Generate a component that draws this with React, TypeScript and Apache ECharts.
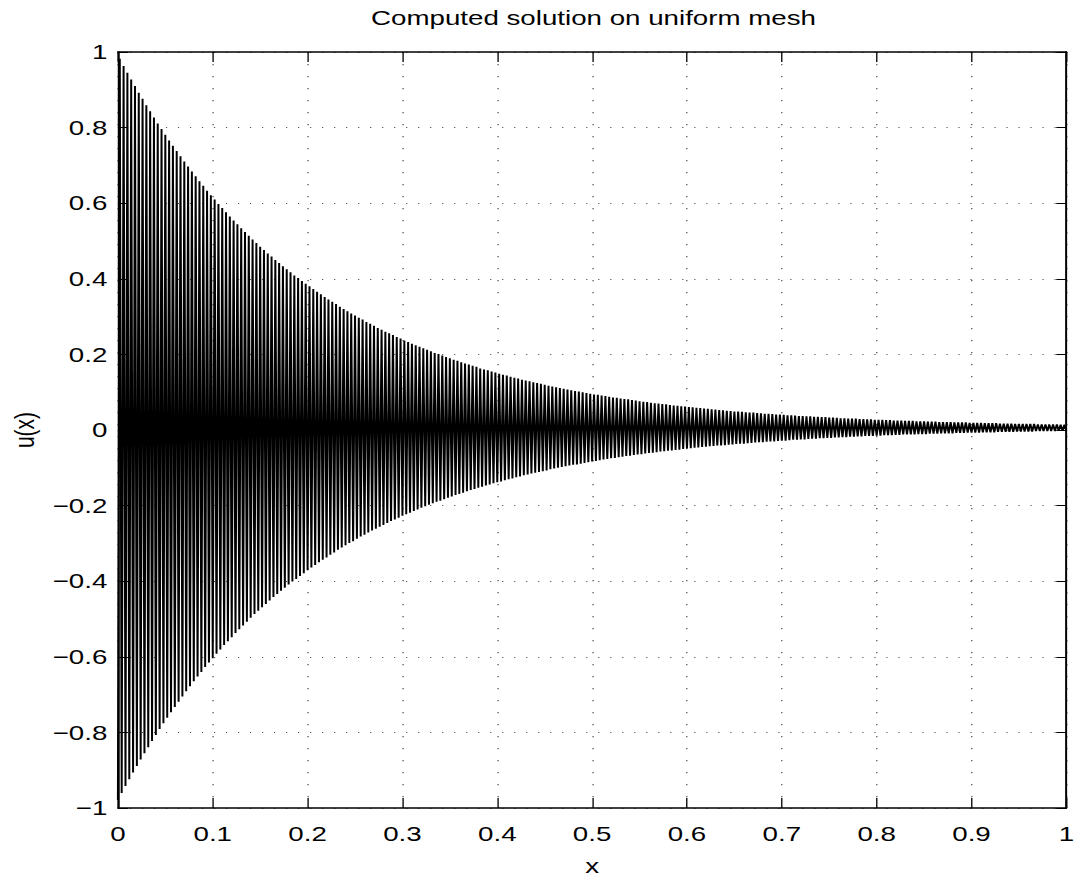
import React, { useEffect, useRef } from "react";
import * as echarts from "echarts";

// Computed solution on a uniform mesh, x_j = j / 500, j = 0..500
const uPart1 = [
  -0.979, 0.982, -0.960, 0.963, -0.942, 0.945, -0.924, 0.927, -0.906, 0.910,
  -0.889, 0.892, -0.872, 0.876, -0.855, 0.859, -0.839, 0.843, -0.823, 0.827,
  -0.807, 0.811, -0.791, 0.796, -0.776, 0.781, -0.761, 0.766, -0.747, 0.752,
  -0.733, 0.738, -0.719, 0.724, -0.705, 0.710, -0.691, 0.697, -0.678, 0.684,
  -0.665, 0.671, -0.652, 0.658, -0.640, 0.646, -0.627, 0.633, -0.615, 0.621,
  -0.604, 0.610, -0.592, 0.598, -0.581, 0.587, -0.569, 0.576, -0.559, 0.565,
  -0.548, 0.554, -0.537, 0.544, -0.527, 0.534, -0.517, 0.524, -0.507, 0.514,
  -0.497, 0.504, -0.487, 0.495, -0.478, 0.485, -0.469, 0.476, -0.460, 0.467,
  -0.451, 0.459, -0.442, 0.450, -0.434, 0.442, -0.425, 0.433, -0.417, 0.425,
  -0.409, 0.417, -0.401, 0.409, -0.394, 0.402, -0.386, 0.394, -0.379, 0.387,
];
const uPart2 = [
  -0.371, 0.380, -0.364, 0.373, -0.357, 0.366, -0.350, 0.359, -0.343, 0.352,
  -0.337, 0.345, -0.330, 0.339, -0.324, 0.333, -0.317, 0.326, -0.311, 0.320,
  -0.305, 0.314, -0.299, 0.308, -0.294, 0.303, -0.288, 0.297, -0.282, 0.292,
  -0.277, 0.286, -0.271, 0.281, -0.266, 0.276, -0.261, 0.270, -0.256, 0.265,
  -0.251, 0.260, -0.246, 0.256, -0.241, 0.251, -0.237, 0.246, -0.232, 0.242,
  -0.227, 0.237, -0.223, 0.233, -0.219, 0.228, -0.214, 0.224, -0.210, 0.220,
  -0.206, 0.216, -0.202, 0.212, -0.198, 0.208, -0.194, 0.204, -0.190, 0.201,
  -0.187, 0.197, -0.183, 0.193, -0.179, 0.190, -0.176, 0.186, -0.172, 0.183,
  -0.169, 0.179, -0.166, 0.176, -0.162, 0.173, -0.159, 0.170, -0.156, 0.167,
  -0.153, 0.163, -0.150, 0.160, -0.147, 0.158, -0.144, 0.155, -0.141, 0.152,
];
const uPart3 = [
  -0.138, 0.149, -0.136, 0.146, -0.133, 0.144, -0.130, 0.141, -0.128, 0.138,
  -0.125, 0.136, -0.123, 0.133, -0.120, 0.131, -0.118, 0.129, -0.115, 0.126,
  -0.113, 0.124, -0.111, 0.122, -0.109, 0.120, -0.107, 0.117, -0.104, 0.115,
  -0.102, 0.113, -0.100, 0.111, -0.098, 0.109, -0.096, 0.107, -0.094, 0.105,
  -0.092, 0.103, -0.091, 0.102, -0.089, 0.100, -0.087, 0.098, -0.085, 0.096,
  -0.083, 0.094, -0.082, 0.093, -0.080, 0.091, -0.078, 0.090, -0.077, 0.088,
  -0.075, 0.086, -0.074, 0.085, -0.072, 0.083, -0.071, 0.082, -0.069, 0.081,
  -0.068, 0.079, -0.066, 0.078, -0.065, 0.076, -0.064, 0.075, -0.062, 0.074,
  -0.061, 0.072, -0.060, 0.071, -0.059, 0.070, -0.057, 0.069, -0.056, 0.068,
  -0.055, 0.066, -0.054, 0.065, -0.053, 0.064, -0.052, 0.063, -0.050, 0.062,
];
const uPart4 = [
  -0.049, 0.061, -0.048, 0.060, -0.047, 0.059, -0.046, 0.058, -0.045, 0.057,
  -0.044, 0.056, -0.043, 0.055, -0.042, 0.054, -0.041, 0.053, -0.041, 0.052,
  -0.040, 0.051, -0.039, 0.050, -0.038, 0.049, -0.037, 0.049, -0.036, 0.048,
  -0.036, 0.047, -0.035, 0.046, -0.034, 0.046, -0.033, 0.045, -0.032, 0.044,
  -0.032, 0.043, -0.031, 0.043, -0.030, 0.042, -0.030, 0.041, -0.029, 0.041,
  -0.028, 0.040, -0.028, 0.039, -0.027, 0.039, -0.026, 0.038, -0.026, 0.037,
  -0.025, 0.037, -0.025, 0.036, -0.024, 0.036, -0.023, 0.035, -0.023, 0.035,
  -0.022, 0.034, -0.022, 0.034, -0.021, 0.033, -0.021, 0.033, -0.020, 0.032,
  -0.020, 0.031, -0.019, 0.031, -0.019, 0.030, -0.018, 0.030, -0.018, 0.030,
  -0.017, 0.029, -0.017, 0.029, -0.016, 0.028, -0.016, 0.028, -0.016, 0.027,
];
const uPart5 = [
  -0.015, 0.027, -0.015, 0.027, -0.014, 0.026, -0.014, 0.026, -0.014, 0.025,
  -0.013, 0.025, -0.013, 0.025, -0.012, 0.024, -0.012, 0.024, -0.012, 0.024,
  -0.012, 0.023, -0.011, 0.023, -0.011, 0.023, -0.011, 0.022, -0.010, 0.022,
  -0.010, 0.022, -0.010, 0.021, -0.009, 0.021, -0.009, 0.021, -0.009, 0.021,
  -0.009, 0.020, -0.008, 0.020, -0.008, 0.020, -0.008, 0.020, -0.007, 0.019,
  -0.007, 0.019, -0.007, 0.019, -0.007, 0.019, -0.006, 0.018, -0.006, 0.018,
  -0.006, 0.018, -0.006, 0.018, -0.005, 0.017, -0.005, 0.017, -0.005, 0.017,
  -0.005, 0.017, -0.005, 0.016, -0.004, 0.016, -0.004, 0.016, -0.004, 0.016,
  -0.004, 0.016, -0.004, 0.016, -0.003, 0.015, -0.003, 0.015, -0.003, 0.015,
  -0.003, 0.015, -0.003, 0.015, -0.003, 0.015, -0.002, 0.014, -0.002, 0.014,
  -0.002,
];
const MESH_INTERVALS = 500;

const TITLE = "Computed solution on uniform mesh";
const X_NAME = "x";
const Y_NAME = "u(x)";

const W = 1078;
const H = 881;
const INNER_W = 817; // drawn narrower, then stretched horizontally like the reference
const SX = W / INNER_W;
const FONT = "'Liberation Sans', Arial, Helvetica, sans-serif";

export default function App() {
  const ref = useRef<HTMLDivElement>(null);

  useEffect(() => {
    document.body.style.margin = "0";
    if (!ref.current) return;
    const chart = echarts.init(ref.current, undefined, { renderer: "svg" });

    const u = [...uPart1, ...uPart2, ...uPart3, ...uPart4, ...uPart5];
    const data = u.map((v, i) => [i / MESH_INTERVALS, v]);

    const gridLeft = 115 / SX;
    const gridRightEdge = 1072 / SX;
    const axisCenterX = (gridLeft + gridRightEdge) / 2;

    const fmtY = (v: number) => {
      const r = Math.round(v * 10) / 10;
      if (Math.abs(r) < 1e-9) return "0";
      return String(r).replace("-", "\u2212");
    };
    const fmtX = (v: number) => {
      const r = Math.round(v * 10) / 10;
      return String(r);
    };

    const axisLine = { show: true, onZero: false, lineStyle: { color: "#000", width: 1.5 } };
    const labelStyle = { color: "#000", fontSize: 21, fontFamily: FONT };

    chart.setOption({
      animation: false,
      backgroundColor: "#fff",
      grid: {
        left: gridLeft,
        right: INNER_W - gridRightEdge,
        top: 52,
        bottom: H - 809.5,
        containLabel: false,
      },
      graphic: [
        {
          type: "text",
          x: axisCenterX,
          y: 18,
          style: {
            text: TITLE,
            fontSize: 21,
            fontFamily: FONT,
            fill: "#000",
            align: "center",
            verticalAlign: "middle",
          },
        },
      ],
      xAxis: [
        {
          type: "value",
          position: "bottom",
          min: 0,
          max: 1,
          interval: 0.1,
          name: X_NAME,
          nameLocation: "middle",
          nameGap: 47,
          nameTextStyle: labelStyle,
          axisLine,
          axisTick: { show: true, inside: true, length: 10, lineStyle: { color: "#000", width: 1 } },
          axisLabel: { ...labelStyle, margin: 15, formatter: fmtX },
          splitLine: { show: true, lineStyle: { color: "#555", width: 1, type: [1.2, 10.8] } },
        },
        {
          type: "value",
          position: "top",
          min: 0,
          max: 1,
          interval: 0.1,
          axisLine,
          axisTick: { show: true, inside: true, length: 10, lineStyle: { color: "#000", width: 1 } },
          axisLabel: { show: false },
          splitLine: { show: false },
        },
      ],
      yAxis: [
        {
          type: "value",
          position: "left",
          min: -1,
          max: 1,
          interval: 0.2,
          name: Y_NAME,
          nameLocation: "middle",
          nameGap: 58,
          nameTextStyle: labelStyle,
          axisLine,
          axisTick: { show: true, inside: true, length: 7.6, lineStyle: { color: "#000", width: 1 } },
          axisLabel: { ...labelStyle, margin: 8, formatter: fmtY },
          splitLine: { show: true, lineStyle: { color: "#555", width: 1, type: [0.9, 8.2] } },
        },
        {
          type: "value",
          position: "right",
          min: -1,
          max: 1,
          interval: 0.2,
          axisLine,
          axisTick: { show: true, inside: true, length: 7.6, lineStyle: { color: "#000", width: 1 } },
          axisLabel: { show: false },
          splitLine: { show: false },
        },
      ],
      series: [
        {
          type: "line",
          xAxisIndex: 0,
          yAxisIndex: 0,
          data,
          showSymbol: false,
          symbol: "none",
          silent: true,
          lineStyle: { color: "#000", width: 1.5 },
        },
      ],
    });

    return () => {
      chart.dispose();
    };
  }, []);

  return (
    <div style={{ width: W, height: H, position: "relative", overflow: "hidden", background: "#fff" }}>
      <div
        ref={ref}
        style={{
          position: "absolute",
          left: 0,
          top: 0,
          width: INNER_W,
          height: H,
          transform: `scaleX(${SX})`,
          transformOrigin: "0 0",
        }}
      />
    </div>
  );
}
